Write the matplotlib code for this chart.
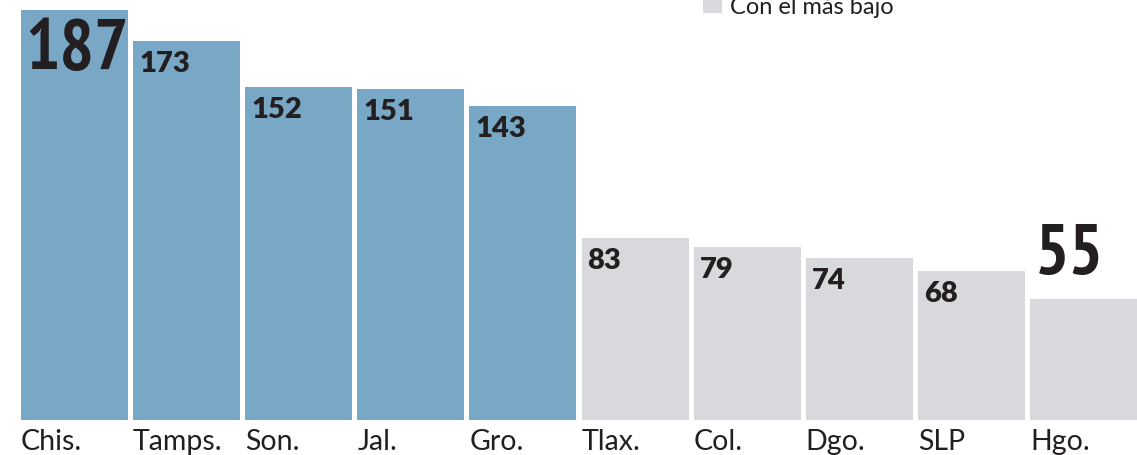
import matplotlib
matplotlib.use("Agg")
import matplotlib.pyplot as plt
from matplotlib import font_manager as fm
from matplotlib.patches import Rectangle

states = ["Chis.", "Tamps.", "Son.", "Jal.", "Gro.", "Tlax.", "Col.", "Dgo.", "SLP", "Hgo."]
values = [187, 173, 152, 151, 143, 83, 79, 74, 68, 55]
groups = ["alto"] * 5 + ["bajo"] * 5
legend_label = "Con el más bajo"

BLUE = "#79A8C7"
GREY = "#D8D9DD"
TXT = "#231F20"

# find a narrow / condensed bold font for the two highlighted numbers
big_prop = None
big_size = 44
for f in fm.fontManager.ttflist:
    if "Narrow" in f.name and f.weight in (700, "bold"):
        big_prop = fm.FontProperties(fname=f.fname)
        big_size = 52
        break
if big_prop is None:
    for f in fm.fontManager.ttflist:
        if f.name == "DejaVu Sans" and f.stretch == "condensed" and f.weight in (700, "bold"):
            big_prop = fm.FontProperties(fname=f.fname)
            big_size = 48
            break
if big_prop is None:
    big_prop = fm.FontProperties(family="DejaVu Sans", weight="bold")
    big_size = 40

W, H, DPI = 11.37, 4.56, 100
fig = plt.figure(figsize=(W, H), dpi=DPI)
ax = fig.add_axes([21 / 1137, 35 / 456, 1116 / 1137, 410 / 456])

bw = 0.955
xs = list(range(len(values)))
colors = [BLUE if g == "alto" else GREY for g in groups]
ax.bar(xs, values, width=bw, color=colors, align="center", linewidth=0)
ax.set_xlim(-bw / 2, len(values) - 1 + bw / 2)
ax.set_ylim(0, max(values))
ax.axis("off")

imax = values.index(max(values))
imin = values.index(min(values))
for i, v in enumerate(values):
    left = i - bw / 2
    if i == imax:
        t = ax.annotate(str(v), (left, v), xytext=(4, -8), textcoords="offset pixels",
                        ha="left", va="top", color=TXT)
        t.set_fontproperties(big_prop)
        t.set_fontsize(big_size)
    elif i == imin:
        t = ax.annotate(str(v), (left, v), xytext=(5, 12), textcoords="offset pixels",
                        ha="left", va="bottom", color=TXT)
        t.set_fontproperties(big_prop)
        t.set_fontsize(big_size)
    else:
        ax.annotate(str(v), (left, v), xytext=(6, -9), textcoords="offset pixels",
                    ha="left", va="top", fontsize=21, fontweight="heavy",
                    family="Lato", color=TXT)
    ax.annotate(states[i], (left, 0), xytext=(0, -8), textcoords="offset pixels",
                ha="left", va="top", fontsize=20.5, fontweight="normal",
                family="Lato", color=TXT, annotation_clip=False)

# legend (partially cut off at top)
fig.patches.append(Rectangle((703 / 1137, 1 - 14 / 456), 19 / 1137, 16 / 456,
                             transform=fig.transFigure, color=GREY, linewidth=0))
fig.text(730 / 1137, 1 - 14 / 456, legend_label, ha="left", va="baseline",
         fontsize=17, family="Lato", color=TXT)

fig.savefig("out.png", dpi=DPI)
